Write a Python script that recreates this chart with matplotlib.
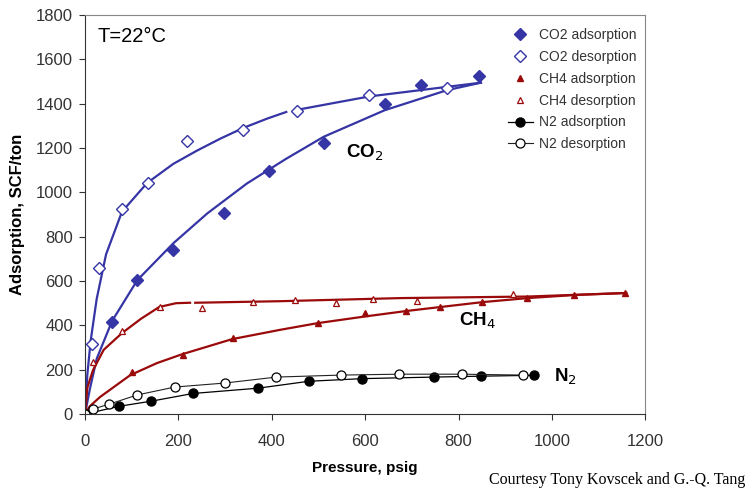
import matplotlib
matplotlib.use("Agg")
import matplotlib.pyplot as plt

plt.rcParams['font.family'] = ['Liberation Sans', 'DejaVu Sans']

# measured points
co2_ads_p = [58, 112, 189, 298, 393, 511, 642, 719, 843]
co2_ads_q = [415, 604, 740, 907, 1096, 1222, 1396, 1484, 1525]
co2_des_p = [15, 30, 79, 135, 219, 339, 455, 609, 775]
co2_des_q = [316, 659, 925, 1042, 1231, 1281, 1367, 1439, 1470]

ch4_ads_p = [100, 210, 316, 498, 599, 688, 761, 850, 946, 1048, 1156]
ch4_ads_q = [189, 266, 343, 410, 455, 465, 483, 505, 523, 537, 546]
ch4_des_p = [17, 79, 160, 250, 359, 449, 538, 617, 711, 917]
ch4_des_q = [235, 374, 483, 478, 505, 514, 501, 519, 510, 541]

n2_ads_p = [0, 72, 141, 231, 371, 479, 594, 748, 848, 962]
n2_ads_q = [0, 35, 58, 93, 117, 148, 160, 167, 171, 175]
n2_des_p = [0, 17, 52, 111, 192, 299, 410, 549, 673, 808, 938]
n2_des_q = [0, 23, 45, 86, 122, 140, 167, 176, 180, 180, 176]

# fitted trend lines
co2_ads_fit_p = [0, 10, 25, 58, 112, 189, 262, 347, 430, 511, 642, 775, 848]
co2_ads_fit_q = [0, 110, 250, 420, 604, 770, 905, 1040, 1150, 1250, 1370, 1460, 1494]
co2_des_fit_p = [0, 5, 12, 25, 45, 79, 133, 189, 240, 290, 339, 390, 431]
co2_des_fit_q = [0, 180, 330, 520, 720, 912, 1042, 1128, 1188, 1242, 1290, 1332, 1362]
co2_des_fit2_p = [455, 609, 848]
co2_des_fit2_q = [1372, 1432, 1494]

ch4_ads_fit_p = [0, 10, 32, 97, 154, 208, 315, 418, 498, 599, 689, 762, 852, 948, 1049, 1159]
ch4_ads_fit_q = [0, 35, 77, 176, 230, 270, 338, 380, 410, 440, 465, 483, 505, 523, 537, 546]
ch4_des_fit_p = [0, 5, 17, 40, 79, 120, 159, 195, 225]
ch4_des_fit_q = [0, 120, 198, 290, 365, 430, 483, 500, 502]
ch4_des_fit2_p = [236, 418, 676, 948, 1159]
ch4_des_fit2_q = [502, 509, 523, 530, 546]

blue = '#3535a5'
red = '#9b0a0a'

fig = plt.figure(figsize=(7.46, 4.93), dpi=100)
ax = fig.add_axes([0.114, 0.160, 0.751, 0.810])

ax.plot(co2_ads_fit_p, co2_ads_fit_q, color=blue, lw=1.6)
ax.plot(co2_des_fit_p, co2_des_fit_q, color=blue, lw=1.6)
ax.plot(co2_des_fit2_p, co2_des_fit2_q, color=blue, lw=1.6)
ax.plot(ch4_ads_fit_p, ch4_ads_fit_q, color=red, lw=1.6)
ax.plot(ch4_des_fit_p, ch4_des_fit_q, color=red, lw=1.6)
ax.plot(ch4_des_fit2_p, ch4_des_fit2_q, color=red, lw=1.6)

ax.plot(co2_ads_p, co2_ads_q, 'D', color=blue, ms=6, ls='none', label='CO2 adsorption')
ax.plot(co2_des_p, co2_des_q, 'D', mfc='white', mec=blue, mew=1.0, ms=6, ls='none',
        label='CO2 desorption')
ax.plot(ch4_ads_p, ch4_ads_q, '^', color=red, ms=5, ls='none', label='CH4 adsorption')
ax.plot(ch4_des_p, ch4_des_q, '^', mfc='white', mec=red, mew=0.9, ms=5, ls='none',
        label='CH4 desorption')
ax.plot(n2_ads_p, n2_ads_q, '-o', color='black', lw=0.9, ms=6.5, label='N2 adsorption')
ax.plot(n2_des_p, n2_des_q, '-o', color='#222222', mfc='white', mec='black', mew=0.9,
        lw=0.8, ms=6.5, label='N2 desorption')

ax.set_xlim(0, 1200)
ax.set_ylim(0, 1800)
ax.set_xticks(range(0, 1201, 200))
ax.set_yticks(range(0, 1801, 200))
ax.tick_params(axis='both', direction='out', length=4.3, width=0.8, labelsize=12,
               labelcolor='#333333', color='#333333')
ax.tick_params(axis='x', pad=10)
ax.tick_params(axis='y', pad=4.3)
ax.spines['left'].set_color('#333333')
ax.spines['bottom'].set_color('#333333')
ax.spines['top'].set_color('#888888')
ax.spines['right'].set_color('#888888')

ax.set_xlabel('Pressure, psig', fontsize=11, fontweight='bold', labelpad=9)
ax.set_ylabel('Adsorption, SCF/ton', fontsize=12, fontweight='bold', labelpad=8)

ax.text(0.023, 0.97, 'T=22°C', transform=ax.transAxes, fontsize=14.5, va='top')
ax.text(558, 1155, 'CO$_2$', fontsize=13.5, fontweight='bold')
ax.text(800, 398, 'CH$_4$', fontsize=13.5, fontweight='bold')
ax.text(1005, 144, 'N$_2$', fontsize=13.5, fontweight='bold')

leg = ax.legend(loc='upper left', bbox_to_anchor=(0.745, 0.98), frameon=False,
                fontsize=10, handlelength=1.8, handletextpad=0.4, labelspacing=0.56,
                borderaxespad=0)
for t in leg.get_texts():
    t.set_color('#333333')

fig.text(0.999, 0.018, 'Courtesy Tony Kovscek and G.-Q. Tang', ha='right', va='baseline',
         fontsize=11.5, family=['Liberation Serif', 'DejaVu Serif'])

fig.savefig('out.png', dpi=100)
